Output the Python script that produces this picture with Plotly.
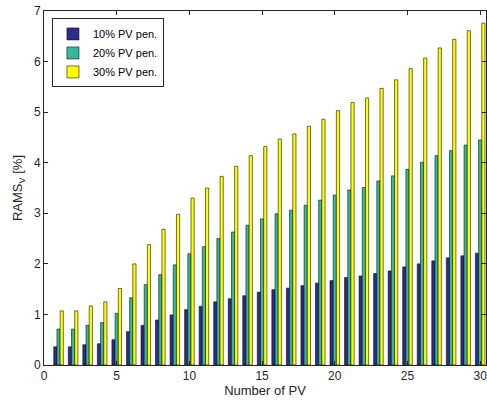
import plotly.graph_objects as go

num_pv = list(range(1, 31))
pen10 = [0.36, 0.36, 0.40, 0.42, 0.50, 0.66, 0.785, 0.89, 0.99, 1.095,
         1.16, 1.25, 1.31, 1.37, 1.44, 1.49, 1.52, 1.57, 1.62, 1.67,
         1.73, 1.76, 1.81, 1.86, 1.94, 2.00, 2.06, 2.12, 2.16, 2.21]
pen20 = [0.71, 0.71, 0.785, 0.84, 1.02, 1.33, 1.59, 1.785, 1.98, 2.20,
         2.34, 2.50, 2.63, 2.765, 2.89, 2.99, 3.06, 3.16, 3.26, 3.36,
         3.46, 3.51, 3.64, 3.74, 3.87, 4.01, 4.14, 4.24, 4.35, 4.45]
pen30 = [1.07, 1.07, 1.17, 1.25, 1.515, 2.00, 2.38, 2.685, 2.98, 3.30,
         3.50, 3.73, 3.93, 4.14, 4.32, 4.47, 4.57, 4.72, 4.86, 5.03,
         5.19, 5.28, 5.47, 5.64, 5.86, 6.07, 6.27, 6.44, 6.61, 6.76]
series_names = ["10% PV pen.", "20% PV pen.", "30% PV pen."]
colors = ["#2e2a88", "#35b89c", "#ffff00"]

fig = go.Figure()
for name, vals, col in zip(series_names, [pen10, pen20, pen30], colors):
    fig.add_trace(go.Bar(x=num_pv, y=vals, name=name,
                         marker=dict(color=col, line=dict(color="#111111", width=0.6))))

axis_common = dict(showline=True, linecolor="#262626", linewidth=1, mirror="ticks",
                   ticks="inside", ticklen=4, tickcolor="#262626", showgrid=False,
                   zeroline=False, tickfont=dict(size=12, color="#262626"),
                   ticklabeloverflow="allow")

fig.update_layout(
    width=487, height=403,
    margin=dict(l=44, r=1, t=11, b=38),
    paper_bgcolor="white", plot_bgcolor="white",
    font=dict(family="Liberation Sans, Arial, sans-serif", color="#262626"),
    barmode="group", bargap=0.34, bargroupgap=0.0,
    showlegend=True,
    legend=dict(x=0.018, y=0.979, xanchor="left", yanchor="top",
                bgcolor="white", bordercolor="#262626", borderwidth=1,
                font=dict(size=11, color="#000000"), tracegroupgap=0,
                itemwidth=30),
    xaxis=dict(range=[0, 30.4], tickvals=[0, 5, 10, 15, 20, 25, 30],
               title=dict(text="Number of PV", font=dict(size=13), standoff=2),
               **axis_common),
    yaxis=dict(range=[0, 7], tickvals=[0, 1, 2, 3, 4, 5, 6, 7],
               title=dict(text="RAMS<sub>V</sub> [%]", font=dict(size=13), standoff=8),
               **axis_common),
)

fig.write_html("out.html")
